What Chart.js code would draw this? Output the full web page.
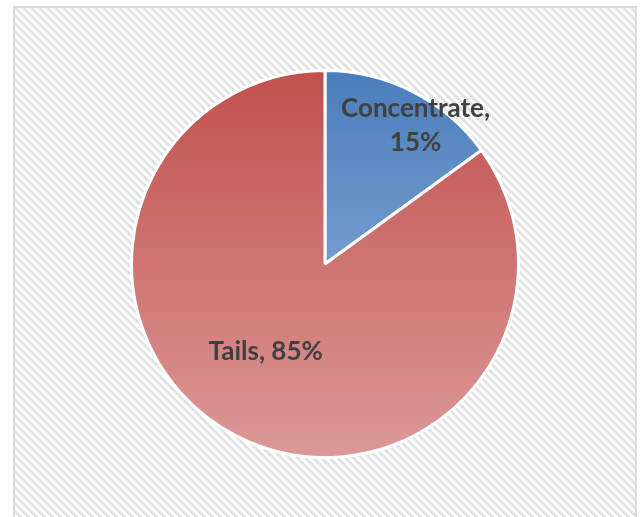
<!DOCTYPE html>
<html>
<head>
<meta charset="utf-8">
<script src="https://cdn.jsdelivr.net/npm/chart.js@4/dist/chart.umd.min.js"></script>
<style>
  html, body { margin: 0; padding: 0; background: #fff; }
  #wrap { position: relative; width: 640px; height: 517px; overflow: hidden; }
  #frame {
    position: absolute; left: 13px; top: 6px; width: 620px; height: 530px;
    border: 2px solid #d9d9d9;
    background: repeating-linear-gradient(45deg, #e2e2e2 0px, #e2e2e2 2.9px, #ffffff 2.9px, #ffffff 5.66px);
  }
  #chart { position: absolute; left: 0; top: 0; }
</style>
</head>
<body>
<div id="wrap">
  <div id="frame"></div>
  <canvas id="chart" width="640" height="517"></canvas>
</div>
<script>
// Mass split between concentrate and tails.
const labels = ['Concentrate', 'Tails'];
const shares = [15, 85];

// Vertical gradient stops per slice (top -> bottom of the slice).
const topColors = ['#4a7dbc', '#c0504d'];
const bottomColors = ['#9dbae0', '#dc9998'];

// Label placement: fraction of the radius along the mid-angle, plus a nudge.
const labelRadius = [0.86, 0.55];
const labelNudge = [[15, 10], [-11, -7]];

function sliceFill(ctx) {
  const chart = ctx.chart;
  const area = chart.chartArea;
  if (!area) return topColors[ctx.dataIndex];
  const meta = chart.getDatasetMeta(0);
  const arc = meta.data[ctx.dataIndex];
  const cy = arc && arc.y ? arc.y : (area.top + area.bottom) / 2;
  const r = arc && arc.outerRadius ? arc.outerRadius : (area.bottom - area.top) / 2;
  let y0 = cy - r, y1 = cy + r;
  if (arc && arc.endAngle !== undefined) {
    // slice extent on the y axis
    const ys = [cy];
    const a0 = arc.startAngle, a1 = arc.endAngle;
    for (let a = a0; a <= a1; a += 0.01) ys.push(cy + r * Math.sin(a));
    ys.push(cy + r * Math.sin(a1));
    y0 = Math.min(...ys); y1 = Math.max(...ys);
  }
  const g = chart.ctx.createLinearGradient(0, y0, 0, y1);
  g.addColorStop(0, topColors[ctx.dataIndex]);
  g.addColorStop(1, bottomColors[ctx.dataIndex]);
  return g;
}

const sliceLabels = {
  id: 'sliceLabels',
  afterDatasetsDraw(chart) {
    const ctx = chart.ctx;
    const meta = chart.getDatasetMeta(0);
    const total = shares.reduce((a, b) => a + b, 0);
    ctx.save();
    ctx.fillStyle = '#404040';
    ctx.font = 'bold 26px Lato';
    ctx.textAlign = 'center';
    ctx.textBaseline = 'middle';
    meta.data.forEach((arc, i) => {
      const mid = (arc.startAngle + arc.endAngle) / 2;
      const r = arc.outerRadius * labelRadius[i];
      const x = arc.x + r * Math.cos(mid) + labelNudge[i][0];
      const y = arc.y + r * Math.sin(mid) + labelNudge[i][1];
      const pct = Math.round(shares[i] / total * 100) + '%';
      if (i === 0) {
        ctx.fillText(labels[i] + ',', x, y - 17);
        ctx.fillText(pct, x, y + 17);
      } else {
        ctx.fillText(labels[i] + ', ' + pct, x, y);
      }
    });
    ctx.restore();
  }
};

new Chart(document.getElementById('chart'), {
  type: 'pie',
  data: {
    labels,
    datasets: [{
      data: shares,
      backgroundColor: sliceFill,
      borderColor: '#ffffff',
      borderWidth: 3,
    }]
  },
  options: {
    responsive: false,
    animation: false,
    layout: { padding: { top: 69, bottom: 58, left: 20, right: 10 } },
    plugins: {
      legend: { display: false },
      tooltip: { enabled: false }
    }
  },
  plugins: [sliceLabels]
});
</script>
</body>
</html>
